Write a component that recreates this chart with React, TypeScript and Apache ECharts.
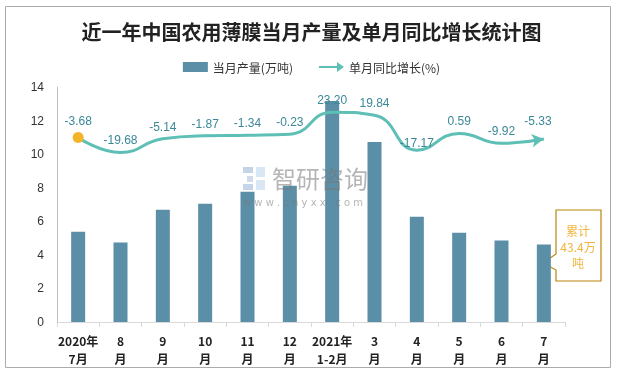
import React, { useEffect, useRef } from "react";
import * as echarts from "echarts";

const title = "近一年中国农用薄膜当月产量及单月同比增长统计图";
const categories = [
  "2020年\n7月", "8\n月", "9\n月", "10\n月", "11\n月", "12\n月",
  "2021年\n1-2月", "3\n月", "4\n月", "5\n月", "6\n月", "7\n月",
];
const production = [5.38, 4.73, 6.69, 7.05, 7.76, 8.12, 13.17, 10.73, 6.27, 5.32, 4.85, 4.61];
const growth = [-3.68, -19.68, -5.14, -1.87, -1.34, -0.23, 23.2, 19.84, -17.17, 0.59, -9.92, -5.33];
const barName = "当月产量(万吨)";
const lineName = "单月同比增长(%)";
const calloutLines = ["累计", "43.4万", "吨"];

const barColor = "#5B8FA7";
const lineColor = "#5DBFB5";
const labelColor = "#3A8898";

export default function App() {
  const ref = useRef<HTMLDivElement>(null);
  useEffect(() => {
    if (!ref.current) return;
    const chart = echarts.init(ref.current, null, { renderer: "svg" });
    const last = growth.length - 1;
    const lineData = growth.map((v, i) => {
      if (i === 0)
        return { value: v, symbol: "circle", symbolSize: 11, itemStyle: { color: "#F3B42A" } };
      if (i === last)
        return { value: v, symbol: "arrow", symbolSize: [10, 12], symbolRotate: -82, itemStyle: { color: lineColor } };
      if (v === -17.17) return { value: v, label: { distance: 0 } };
      return { value: v };
    });
    chart.setOption({
      animation: false,
      title: {
        text: title,
        left: "center",
        top: 16,
        textStyle: { fontSize: 20, fontWeight: "bold", color: "#222", fontFamily: "Noto Sans CJK SC" },
      },
      legend: {
        top: 56,
        left: "center",
        itemGap: 26,
        itemWidth: 25,
        itemHeight: 10,
        textStyle: { fontSize: 12, color: "#333", fontFamily: "Noto Sans CJK SC" },
        data: [
          { name: barName, icon: "rect" },
          { name: lineName, icon: "path://M0,4 L18,4 L18,0 L25,5 L18,10 L18,6 L0,6 Z" },
        ],
      },
      grid: { left: 57, right: 58, top: 87, bottom: 49 },
      xAxis: {
        type: "category",
        data: categories,
        axisLine: { lineStyle: { color: "#d9d9d9" } },
        axisTick: { show: true, length: 5, lineStyle: { color: "#d9d9d9" } },
        axisLabel: {
          interval: 0,
          margin: 9,
          fontSize: 12,
          fontWeight: "bold",
          color: "#222",
          lineHeight: 18,
          fontFamily: "Noto Sans CJK SC",
        },
      },
      yAxis: [
        {
          type: "value",
          min: 0,
          max: 14,
          interval: 2,
          axisLine: { show: true, lineStyle: { color: "#bfbfbf" } },
          axisTick: { show: false },
          splitLine: { show: false },
          axisLabel: { fontSize: 12, color: "#333", margin: 13, fontFamily: "Liberation Sans" },
        },
        {
          type: "value",
          min: -200,
          max: 50,
          show: false,
          splitLine: { show: false },
        },
      ],
      series: [
        {
          name: barName,
          type: "bar",
          data: production,
          barWidth: 14,
          itemStyle: { color: barColor },
        },
        {
          name: lineName,
          type: "line",
          yAxisIndex: 1,
          data: lineData,
          smooth: 0.5,
          symbol: "circle",
          symbolSize: 2,
          itemStyle: { color: lineColor },
          lineStyle: { color: lineColor, width: 3 },
          label: {
            show: true,
            position: "top",
            distance: 5,
            fontSize: 12,
            color: labelColor,
            fontFamily: "Liberation Sans",
            formatter: (p: any) => Number(p.value).toFixed(2),
          },
          z: 5,
        },
      ],
      graphic: [
        {
          type: "rect",
          shape: { x: 5.5, y: 6.5, width: 605, height: 361 },
          style: { fill: "none", stroke: "#ababab", lineWidth: 1 },
          silent: true,
        },
        {
          type: "group",
          silent: true,
          z: 20,
          children: [
            { type: "rect", z: 20, shape: { x: 243, y: 167, width: 10, height: 6 }, style: { fill: "#b7c9e2", opacity: 0.8 } },
            { type: "rect", z: 20, shape: { x: 247, y: 176, width: 6, height: 6 }, style: { fill: "#c5d3e6", opacity: 0.8 } },
            { type: "rect", z: 20, shape: { x: 243, y: 184, width: 10, height: 6 }, style: { fill: "#b7c9e2", opacity: 0.8 } },
            { type: "rect", z: 20, shape: { x: 256, y: 167, width: 9, height: 10 }, style: { fill: "#cfe0f1", opacity: 0.8 } },
            { type: "rect", z: 20, shape: { x: 256, y: 180, width: 9, height: 10 }, style: { fill: "#cfe0f1", opacity: 0.8 } },
            {
              type: "text",
              z: 20,
              x: 272,
              y: 177,
              style: {
                text: "智研咨询",
                fontSize: 24,
                lineHeight: 24,
                verticalAlign: "middle",
                fill: "rgba(120,120,120,0.55)",
                fontFamily: "Noto Sans CJK SC",
              },
            },
            {
              type: "text",
              z: 20,
              x: 243,
              y: 202,
              style: {
                text: "w w w . c h y x x . c o m",
                fontSize: 10,
                lineHeight: 10,
                verticalAlign: "middle",
                fill: "rgba(120,120,120,0.55)",
                fontFamily: "DejaVu Sans",
              },
            },
          ],
        },
        {
          type: "polygon",
          shape: {
            points: [[556, 210], [601, 210], [601, 281], [556, 281], [556, 270], [543, 263], [556, 254]],
          },
          style: { fill: "#fff", stroke: "#B8860B", lineWidth: 1.2 },
          silent: true,
        },
        ...calloutLines.map((t, i) => ({
          type: "text",
          x: 578,
          y: 230 + i * 16,
          style: {
            text: t,
            fontSize: 12,
            fill: "#F2B43C",
            align: "center",
            verticalAlign: "middle",
            fontFamily: "Noto Sans CJK SC",
          },
          silent: true,
        })),
      ],
    });
    return () => chart.dispose();
  }, []);
  return <div ref={ref} style={{ position: "fixed", left: 0, top: 0, width: 623, height: 371 }} />;
}
